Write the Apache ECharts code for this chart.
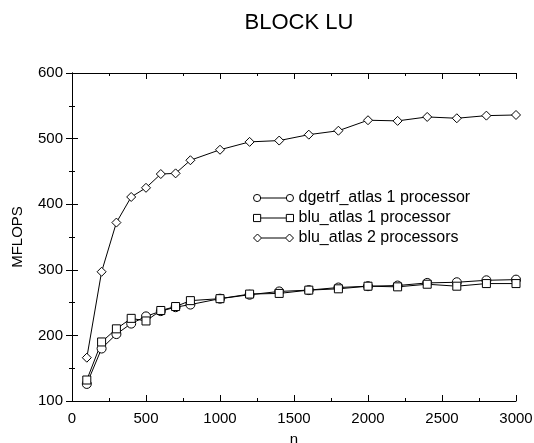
<!DOCTYPE html>
<html lang="en">
<head>
    <meta charset="UTF-8">
    <title>BLOCK LU</title>
    <style>
        html, body { margin: 0; padding: 0; background: #fff; }
        #main { width: 534px; height: 443px; }
    </style>
</head>
<body>
<div id="main"></div>

<script src="https://cdn.jsdelivr.net/npm/echarts@6/dist/echarts.min.js"></script>
<script>
    // problem sizes n
    const sizes = [100, 200, 300, 400, 500, 600, 700, 800, 1000, 1200, 1400,
        1600, 1800, 2000, 2200, 2400, 2600, 2800, 3000];

    // MFLOPS
    const dgetrf1 = [126, 180, 202, 218, 229, 237, 243, 247, 256, 262, 267,
        269, 273, 275, 276, 280, 281, 284, 285];
    const blu1 = [132, 190, 210, 226, 222, 238, 244, 253, 256, 263, 264,
        269, 271, 275, 274, 278, 275, 279, 279];
    const blu2 = [166, 297, 372, 411, 425, 446, 447, 467, 483, 495, 497,
        506, 512, 528, 527, 533, 531, 535, 536];

    const seriesNames = ['dgetrf_atlas 1 processor', 'blu_atlas 1 processor', 'blu_atlas 2 processors'];

    const xTicks = [0, 500, 1000, 1500, 2000, 2500, 3000];
    const yTicks = [100, 200, 300, 400, 500, 600];

    const font = 'Liberation Sans, Arial, sans-serif';

    // legend icons: marker - line - marker
    const icons = [
        'path://M0.5,4a3.5,3.5 0 1,0 7,0a3.5,3.5 0 1,0 -7,0M7.5,4L32.5,4M32.5,4a3.5,3.5 0 1,0 7,0a3.5,3.5 0 1,0 -7,0',
        'path://M0.5,0.5L7.5,0.5L7.5,7.5L0.5,7.5ZM7.5,4L32.5,4M32.5,0.5L39.5,0.5L39.5,7.5L32.5,7.5Z',
        'path://M4,0L8,4L4,8L0,4ZM8,4L32,4M36,0L40,4L36,8L32,4Z'
    ];

    function pairs(vals) {
        return sizes.map((n, i) => [n, vals[i]]);
    }

    function lineSeries(name, vals, symbol, size) {
        return {
            name: name,
            type: 'line',
            data: pairs(vals),
            symbol: symbol,
            symbolSize: size,
            showAllSymbol: true,
            lineStyle: {color: '#000', width: 1},
            itemStyle: {color: '#fff', borderColor: '#000', borderWidth: 1},
            emphasis: {disabled: true},
            animation: false
        };
    }

    const xMin = xTicks[0], xMax = xTicks[xTicks.length - 1];
    const yMin = yTicks[0], yMax = yTicks[yTicks.length - 1];

    // frame axis: line + major ticks pointing inward
    function frameAxis(pos, min, max, step, grid) {
        return {
            type: 'value', gridIndex: grid, position: pos, min: min, max: max, interval: step,
            axisLine: {show: true, lineStyle: {color: '#000', width: 1}},
            axisTick: {show: true, inside: true, length: 6, lineStyle: {color: '#000'}},
            splitLine: {show: false},
            axisLabel: {show: false}
        };
    }

    // short inward ticks at half steps, on a second grid over the same rect
    function minorAxis(pos, min, max, step) {
        return {
            type: 'value', gridIndex: 1, position: pos, min: min, max: max, interval: step,
            axisLine: {show: false},
            axisTick: {show: true, inside: true, length: 3, lineStyle: {color: '#000'}},
            splitLine: {show: false},
            axisLabel: {show: false}
        };
    }

    const xMain = Object.assign(frameAxis('bottom', xMin, xMax, 500, 0), {
        name: 'n', nameLocation: 'middle', nameGap: 31,
        nameTextStyle: {color: '#000', fontFamily: font, fontSize: 15},
        axisLabel: {show: true, color: '#000', fontFamily: font, fontSize: 15, margin: 10, formatter: v => String(v)}
    });
    const yMain = Object.assign(frameAxis('left', yMin, yMax, 100, 0), {
        name: 'MFLOPS', nameLocation: 'middle', nameGap: 47,
        nameTextStyle: {color: '#000', fontFamily: font, fontSize: 15},
        axisLabel: {show: true, color: '#000', fontFamily: font, fontSize: 15, margin: 9}
    });

    const gridRect = {left: 72, right: 18, top: 73, bottom: 42, outerBoundsMode: 'none'};

    const option = {
        backgroundColor: '#fff',
        animation: false,
        title: {
            text: 'BLOCK LU',
            left: 294, top: 7, textAlign: 'center',
            textStyle: {color: '#000', fontFamily: font, fontSize: 22, fontWeight: 'normal'}
        },
        grid: [Object.assign({}, gridRect), Object.assign({}, gridRect)],
        legend: {
            orient: 'vertical',
            left: 248, top: 185,
            itemWidth: 40, itemHeight: 8, itemGap: 4,
            selectedMode: false,
            textStyle: {color: '#000', fontFamily: font, fontSize: 16, lineHeight: 16},
            itemStyle: {color: '#fff', borderColor: '#000', borderWidth: 1},
            data: seriesNames.map((n, i) => ({name: n, icon: icons[i]}))
        },
        xAxis: [
            xMain,
            frameAxis('top', xMin, xMax, 500, 0),
            minorAxis('bottom', xMin, xMax, 250),
            minorAxis('top', xMin, xMax, 250)
        ],
        yAxis: [
            yMain,
            frameAxis('right', yMin, yMax, 100, 0),
            minorAxis('left', yMin, yMax, 50),
            minorAxis('right', yMin, yMax, 50)
        ],
        series: [
            lineSeries(seriesNames[0], dgetrf1, 'circle', 9),
            lineSeries(seriesNames[1], blu1, 'rect', 8),
            lineSeries(seriesNames[2], blu2, 'diamond', 9)
        ]
    };

    let myChart = echarts.init(document.getElementById('main'));
    myChart.setOption(option);
</script>
</body>
</html>
